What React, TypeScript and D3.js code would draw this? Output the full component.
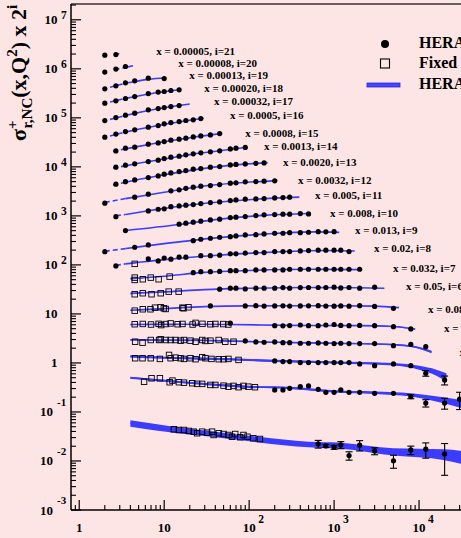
import React, { useEffect } from 'react';
import * as d3 from 'd3';

const W = 461;
const H = 538;

// x value of each bin, index i = 0..21 (plotted as sigma * 2^i)
const xBinLabels = ['0.65', '0.40', '0.25', '0.18', '0.13', '0.08', '0.05', '0.032', '0.02', '0.013', '0.008', '0.005', '0.0032', '0.0020', '0.0013', '0.0008', '0.0005', '0.00032', '0.00020', '0.00013', '0.00008', '0.00005'];

// HERA I NC e+p points per bin: [Q2, sigma_r, error?]
const heraPoints: number[][][] = [
  [[650, 0.0223, 0.004], [800, 0.0203, 0.0015], [1000, 0.0191, 0.0018], [1200, 0.0213, 0.0035], [1500, 0.0129, 0.0025], [2000, 0.021, 0.005], [3000, 0.016, 0.0026], [5000, 0.0101, 0.003], [8000, 0.0168, 0.0033], [12000, 0.0174, 0.006], [20000, 0.0139, 0.0088]],
  [[200, 0.141], [250, 0.141], [300, 0.152], [400, 0.164], [500, 0.17], [650, 0.145], [800, 0.126], [1000, 0.126], [1200, 0.141], [1500, 0.126], [2000, 0.126], [3000, 0.12], [5000, 0.12], [8000, 0.103, 0.01], [12000, 0.076, 0.013], [20000, 0.076, 0.019], [30000, 0.091, 0.035]],
  [[200, 0.275], [250, 0.266], [300, 0.266], [400, 0.254], [500, 0.254], [650, 0.254], [800, 0.254], [1000, 0.254], [1200, 0.254], [1500, 0.254], [2000, 0.239], [3000, 0.22], [5000, 0.239], [8000, 0.22], [12000, 0.154, 0.02], [20000, 0.112, 0.023]],
  [[90, 0.351], [120, 0.335], [150, 0.33], [200, 0.335], [250, 0.324], [300, 0.324], [400, 0.315], [500, 0.315], [650, 0.32], [800, 0.315], [1000, 0.31], [1200, 0.315], [1500, 0.31], [2000, 0.31], [3000, 0.31], [5000, 0.281], [8000, 0.3], [12000, 0.268]],
  [[60, 0.404], [200, 0.36], [250, 0.357], [300, 0.362], [400, 0.371], [500, 0.36], [650, 0.36], [800, 0.371], [1000, 0.38], [1200, 0.364], [1500, 0.36], [2000, 0.364], [3000, 0.36], [5000, 0.344], [8000, 0.309]],
  [[35, 0.454], [90, 0.455], [120, 0.46], [150, 0.452], [200, 0.455], [250, 0.458], [300, 0.452], [400, 0.455], [500, 0.458], [650, 0.46], [800, 0.452], [1000, 0.45], [1200, 0.455], [1500, 0.45], [2000, 0.46], [3000, 0.445], [5000, 0.407]],
  [[45, 0.499], [60, 0.523], [70, 0.523], [90, 0.506], [120, 0.523], [150, 0.523], [200, 0.523], [250, 0.538], [300, 0.523], [400, 0.538], [500, 0.54], [650, 0.54], [800, 0.54], [1000, 0.55], [1200, 0.53], [1500, 0.54], [2000, 0.523], [3000, 0.548]],
  [[22, 0.543], [27, 0.569], [35, 0.569], [45, 0.574], [60, 0.596], [70, 0.596], [90, 0.596], [120, 0.616], [150, 0.616], [200, 0.616], [250, 0.616], [300, 0.637], [400, 0.637], [500, 0.637], [650, 0.637], [800, 0.637], [1000, 0.637], [1200, 0.637], [1500, 0.637], [2000, 0.637]],
  [[2.7, 0.373], [6.5, 0.518], [8.5, 0.471], [10, 0.54], [12, 0.51], [15, 0.561], [18, 0.561], [27, 0.602], [35, 0.603], [45, 0.616], [60, 0.655], [70, 0.655], [90, 0.677], [120, 0.696], [150, 0.696], [200, 0.73], [250, 0.73], [300, 0.73], [400, 0.754], [500, 0.765], [650, 0.78], [800, 0.78], [1000, 0.78], [1200, 0.78], [1500, 0.73]],
  [[2, 0.364], [4.5, 0.447], [6.5, 0.499], [22, 0.61], [27, 0.652], [35, 0.683], [45, 0.716], [60, 0.737], [70, 0.761], [90, 0.798], [120, 0.809], [150, 0.837], [200, 0.864], [250, 0.864], [300, 0.889], [400, 0.889], [500, 0.906], [650, 0.932], [800, 0.925], [1000, 0.932]],
  [[3.5, 0.489], [15, 0.661], [18, 0.693], [22, 0.726], [27, 0.761], [35, 0.809], [45, 0.837], [60, 0.902], [70, 0.919], [90, 0.945], [120, 0.991], [150, 1.024], [200, 1.038], [250, 1.058], [300, 1.058], [400, 1.088], [500, 1.068]],
  [[2.7, 0.471], [6.5, 0.616], [8.5, 0.667], [10, 0.68], [12, 0.754], [15, 0.78], [18, 0.806], [22, 0.829], [27, 0.869], [35, 0.91], [45, 0.941], [60, 1.0], [70, 1.033], [90, 1.068], [120, 1.083], [150, 1.099], [200, 1.135], [250, 1.151], [300, 1.173]],
  [[2, 0.443], [4.5, 0.588], [6.5, 0.677], [12, 0.791], [15, 0.829], [18, 0.889], [22, 0.941], [27, 0.986], [35, 1.014], [45, 1.063], [60, 1.135], [70, 1.151], [90, 1.207], [120, 1.224], [150, 1.247], [200, 1.265]],
  [[2.7, 0.54], [3.5, 0.61], [4.5, 0.661], [6.5, 0.737], [8.5, 0.798], [10, 0.864], [12, 0.919], [15, 0.977], [18, 1.024], [22, 1.093], [27, 1.125], [35, 1.201], [45, 1.236], [60, 1.339], [70, 1.37], [90, 1.4], [120, 1.44], [150, 1.47]],
  [[2.7, 0.602], [3.5, 0.661], [4.5, 0.703], [6.5, 0.783], [8.5, 0.837], [10, 0.902], [12, 0.963], [15, 1.009], [18, 1.073], [22, 1.125], [27, 1.179], [35, 1.236], [45, 1.295], [60, 1.42], [70, 1.47], [90, 1.52]],
  [[2.7, 0.646], [3.5, 0.733], [4.5, 0.768], [6.5, 0.885], [8.5, 0.941], [10, 1.0], [12, 1.068], [15, 1.119], [18, 1.173], [22, 1.247], [27, 1.307], [35, 1.37], [45, 1.456]],
  [[2, 0.616], [2.7, 0.71], [3.5, 0.802], [4.5, 0.869], [6.5, 0.986], [8.5, 1.063], [10, 1.151], [12, 1.224], [15, 1.283], [18, 1.345], [22, 1.389], [27, 1.477]],
  [[2, 0.67], [2.7, 0.772], [3.5, 0.864], [4.5, 0.95], [6.5, 1.109], [8.5, 1.179], [10, 1.236], [12, 1.295], [15, 1.357]],
  [[2, 0.761], [2.7, 0.848], [3.5, 0.945], [4.5, 1.038], [6.5, 1.195], [8.5, 1.277], [10, 1.313], [12, 1.377], [15, 1.423]],
  [[2, 0.744], [2.7, 0.856], [3.5, 0.986], [4.5, 1.083], [6.5, 1.23], [10, 1.207]],
  [[2, 0.817], [2.7, 0.94], [3.5, 1.063]],
  [[2, 0.905], [2.7, 0.93]],
];

// Fixed target points per bin: [Q2, sigma_r]
const fixedTargetPoints: number[][][] = [
  [[13, 0.0443], [14.9, 0.0429], [17.1, 0.0429], [19.5, 0.041], [22.3, 0.0396], [24.4, 0.0368], [28, 0.0396], [32, 0.0377], [36.6, 0.0396], [38.2, 0.0339], [43.8, 0.0368], [50, 0.0355], [57, 0.0339], [62.8, 0.0312], [68.6, 0.0355], [78.5, 0.0305], [85.8, 0.0339], [95.5, 0.0312], [112, 0.0291], [134, 0.0281]],
  [[5.8, 0.207], [7.1, 0.243], [8.9, 0.243], [11.6, 0.202], [12.5, 0.218], [14.9, 0.202], [17.1, 0.198], [21.4, 0.193], [24.4, 0.187], [28, 0.187], [35, 0.178], [40, 0.178], [50, 0.172], [57, 0.164], [65.5, 0.17], [75, 0.16], [85.8, 0.17], [98, 0.164], [117, 0.16]],
  [[4.55, 0.312], [5.56, 0.312], [6.95, 0.312], [8.9, 0.302], [11.4, 0.364], [11.9, 0.312], [13.6, 0.321], [15.6, 0.312], [17.1, 0.302], [20.4, 0.312], [23.4, 0.298], [28, 0.327], [30.6, 0.312], [36, 0.302], [43.8, 0.298], [50, 0.298], [57, 0.302], [75, 0.288]],
  [[4.55, 0.339], [5.56, 0.324], [6.95, 0.367], [8.7, 0.367], [9.1, 0.38], [10.4, 0.367], [11.9, 0.367], [13.6, 0.367], [15.6, 0.356], [17.1, 0.367], [20.4, 0.356], [23.4, 0.339], [28, 0.367], [30.6, 0.351], [35, 0.356], [43.8, 0.367], [52.4, 0.339], [65.5, 0.339]],
  [[4.5, 0.385], [5.6, 0.39], [7.0, 0.38], [8.6, 0.392], [9.2, 0.37], [10.4, 0.388], [11.9, 0.4], [14.4, 0.385], [16.4, 0.39], [21.6, 0.38], [23.4, 0.41], [28.2, 0.392], [35, 0.385], [40, 0.39], [49.6, 0.388], [56.8, 0.38]],
  [[4.5, 0.364], [5.6, 0.389], [6.9, 0.389], [7.8, 0.419], [9.1, 0.427], [9.9, 0.407], [10.4, 0.394], [16.4, 0.419], [16.9, 0.407], [19.3, 0.427]],
  [[4.5, 0.394], [5.6, 0.413], [7.1, 0.394], [9.1, 0.413], [11.3, 0.445], [14.8, 0.445]],
  [[4.5, 0.385], [4.5, 0.43], [5.6, 0.398], [6.95, 0.43], [8.6, 0.398], [11.6, 0.45]],
  [[4.5, 0.41]],
  [], [], [], [], [], [], [], [], [], [], [], [], [],
];

// HERAPDF1.0 curves per bin: [Q2, sigma_r, relative half-width of the band]
const pdfCurves: number[][][] = [
  [[4, 0.059, 0.15], [13, 0.044, 0.14], [30, 0.037, 0.13], [130, 0.0275, 0.13], [500, 0.0218, 0.13], [1200, 0.0207, 0.14], [5000, 0.0155, 0.17], [20000, 0.0138, 0.25], [30000, 0.0125, 0.29], [50000, 0.011, 0.33]],
  [[4, 0.25, 0.05], [15, 0.205, 0.05], [50, 0.175, 0.05], [100, 0.163, 0.05], [300, 0.155, 0.05], [1000, 0.132, 0.05], [3000, 0.124, 0.06], [8000, 0.112, 0.08], [15000, 0.095, 0.12], [30000, 0.075, 0.18], [45000, 0.062, 0.22]],
  [[4, 0.34, 0.05], [10, 0.32, 0.05], [50, 0.3, 0.05], [200, 0.275, 0.05], [1000, 0.255, 0.05], [5000, 0.235, 0.06], [10000, 0.2, 0.09], [16000, 0.16, 0.14], [21000, 0.13, 0.19]],
  [[4, 0.37, 0.02], [30, 0.36, 0.02], [200, 0.33, 0.02], [1000, 0.315, 0.02], [5000, 0.295, 0.03], [9000, 0.265, 0.04], [14000, 0.21, 0.06]],
  [[4, 0.38, 0.01], [20, 0.385, 0.01], [60, 0.38, 0.01], [300, 0.365, 0.01], [2000, 0.36, 0.01], [5000, 0.345, 0.02], [9000, 0.305, 0.03]],
  [[4, 0.37, 0], [10, 0.4, 0], [30, 0.44, 0], [100, 0.455, 0], [1000, 0.46, 0], [3000, 0.45, 0.01], [5800, 0.42, 0.015]],
  [[4, 0.41, 0], [10, 0.44, 0], [30, 0.49, 0], [100, 0.52, 0], [500, 0.54, 0], [2000, 0.535, 0], [3900, 0.52, 0.01]],
  [[4, 0.41, 0], [10, 0.46, 0], [30, 0.55, 0], [100, 0.6, 0], [500, 0.635, 0], [2100, 0.625, 0]],
  [[2.7, 0.38, 0], [3.5, 0.41, 0], [4.5, 0.43, 0], [10, 0.5, 0], [35, 0.6, 0], [150, 0.7, 0], [800, 0.77, 0], [1750, 0.75, 0]],
  [[2, 0.37, 0], [3.5, 0.42, 0], [4.5, 0.445, 0], [10, 0.53, 0], [35, 0.68, 0], [150, 0.83, 0], [600, 0.92, 0], [1150, 0.9, 0]],
  [[3.5, 0.49, 0], [15, 0.65, 0], [45, 0.84, 0], [150, 1.0, 0], [520, 1.09, 0]],
  [[2.7, 0.49, 0], [3.5, 0.52, 0], [6.5, 0.62, 0], [15, 0.77, 0], [45, 0.94, 0], [120, 1.07, 0], [390, 1.18, 0]],
  [[2, 0.46, 0], [3.5, 0.55, 0], [4.5, 0.59, 0], [10, 0.74, 0], [27, 0.97, 0], [70, 1.14, 0], [215, 1.28, 0]],
  [[2.5, 0.52, 0], [3.5, 0.59, 0], [4.5, 0.65, 0], [10, 0.84, 0], [27, 1.11, 0], [60, 1.31, 0], [165, 1.49, 0]],
  [[2.5, 0.58, 0], [3.5, 0.64, 0], [4.5, 0.7, 0], [10, 0.88, 0], [22, 1.11, 0], [45, 1.3, 0], [95, 1.53, 0]],
  [[2.5, 0.63, 0], [3.5, 0.71, 0], [4.5, 0.77, 0], [10, 0.99, 0], [22, 1.23, 0], [48, 1.47, 0]],
  [[2.3, 0.65, 0], [3.5, 0.78, 0], [4.5, 0.86, 0], [10, 1.12, 0], [20, 1.36, 0], [29, 1.5, 0]],
  [[2.3, 0.71, 0], [3.5, 0.85, 0], [4.5, 0.94, 0], [8.5, 1.17, 0], [15, 1.36, 0], [20, 1.46, 0]],
  [[2.3, 0.8, 0], [3.5, 0.95, 0], [4.5, 1.03, 0], [8.5, 1.25, 0], [15.5, 1.44, 0]],
  [[2.3, 0.8, 0], [3.5, 0.97, 0], [4.5, 1.05, 0], [6.5, 1.16, 0], [10.5, 1.25, 0]],
  [[2.6, 0.92, 0], [3.5, 1.02, 0], [4.3, 1.1, 0]],
  [[2.6, 0.92, 0], [3.1, 1.0, 0]],
];

// label anchor of each bin in data coordinates: [Q2, plotted value]
const labelAnchors: number[][] = [
  [89000, 0.0066], [52000, 0.11], [40000, 0.49], [30000, 1.39], [19680, 4.29], [12760, 10.5], [7031, 30.9], [4946, 72], [2955, 184], [1766, 430], [897, 954], [597, 2220], [377, 4500], [251, 1.05e4], [150, 2.22e4], [89.7, 4.09e4], [59.7, 9.55e4], [38.7, 1.84e5], [29.6, 3.4e5], [19.7, 6.25e5], [14.6, 1.1e6], [8.05, 1.93e6],
];

const yMajorExp = [-3, -2, -1, 0, 1, 2, 3, 4, 5, 6, 7];
const xMajorExp = [0, 1, 2, 3, 4];
const legendLabels = ['HERA I NC e\u207Ap', 'Fixed Target', 'HERAPDF1.0'];

const FONT = "'Liberation Serif','Times New Roman',serif";
const BLUE = '#3c3cff';

export default function App() {
  useEffect(() => {
    document.body.style.margin = '0';
  }, []);

  const x = d3.scaleLog().domain([0.8, 1e5]).range([71, 504]);
  const y = d3.scaleLog().domain([1e-3, 2.1e7]).range([510, 4]);

  const line = d3.line<number[]>().x(d => x(d[0])).y(d => y(d[1])).curve(d3.curveMonotoneX);
  const area = d3.area<number[]>().x(d => x(d[0])).y0(d => y(d[1] * (1 - d[2]))).y1(d => y(d[1] * (1 + d[2]))).curve(d3.curveMonotoneX);

  const yMinor: number[] = [];
  for (let n = -3; n <= 7; n++) for (let k = 2; k <= 9; k++) { const v = k * Math.pow(10, n); if (v < 2.1e7) yMinor.push(v); }
  const xMinor: number[] = [0.9];
  for (let n = 0; n <= 4; n++) for (let k = 2; k <= 9; k++) { const v = k * Math.pow(10, n); if (x(v) < W) xMinor.push(v); }

  const rows = d3.range(22);

  return (
    <svg width={W} height={H} style={{ position: 'absolute', left: 0, top: 0, display: 'block' }} fontFamily={FONT}>
      <defs>
        <clipPath id="plot"><rect x={71} y={4} width={433} height={506} /></clipPath>
      </defs>
      <rect x={0} y={0} width={W} height={H} fill="#fde5e5" />

      <g clipPath="url(#plot)">
        {rows.map(i => {
          const s = Math.pow(2, i);
          const k = pdfCurves[i].map(d => [d[0], d[1] * s, d[2]]);
          const dashed = k.filter(d => d[0] <= 3.5);
          const solid = k.filter(d => d[0] >= 3.5);
          const hasBand = k.some(d => d[2] > 0);
          return (
            <g key={'c' + i}>
              {hasBand && solid.length > 1 && <path d={area(solid) || ''} fill={BLUE} stroke="none" />}
              {dashed.length > 1 && <path d={line(dashed) || ''} fill="none" stroke={BLUE} strokeWidth={1.6} strokeDasharray="5,3" />}
              {solid.length > 1 && <path d={line(solid) || ''} fill="none" stroke={BLUE} strokeWidth={1.6} />}
            </g>
          );
        })}
        {rows.map(i => {
          const s = Math.pow(2, i);
          return (
            <g key={'f' + i}>
              {fixedTargetPoints[i].map((d, j) => (
                <rect key={j} x={x(d[0]) - 2.75} y={y(d[1] * s) - 2.75} width={5.5} height={5.5} fill="none" stroke="#000" strokeWidth={0.9} />
              ))}
            </g>
          );
        })}
        {rows.map(i => {
          const s = Math.pow(2, i);
          return (
            <g key={'h' + i}>
              {heraPoints[i].map((d, j) => {
                const cx = x(d[0]);
                const cy = y(d[1] * s);
                return (
                  <g key={j}>
                    {d.length > 2 && (
                      <g stroke="#000" strokeWidth={1.1}>
                        <line x1={cx} x2={cx} y1={y((d[1] + d[2]) * s)} y2={y((d[1] - d[2]) * s)} />
                        <line x1={cx - 3.5} x2={cx + 3.5} y1={y((d[1] + d[2]) * s)} y2={y((d[1] + d[2]) * s)} />
                        <line x1={cx - 3.5} x2={cx + 3.5} y1={y((d[1] - d[2]) * s)} y2={y((d[1] - d[2]) * s)} />
                      </g>
                    )}
                    <circle cx={cx} cy={cy} r={2.6} fill="#000" />
                  </g>
                );
              })}
            </g>
          );
        })}
      </g>

      {/* bin labels */}
      {rows.map(i => (
        <text key={'l' + i} x={x(labelAnchors[i][0])} y={y(labelAnchors[i][1])} fontSize={11} fontWeight="bold" fill="#000">
          {`x = ${xBinLabels[i]}, i=${i}`}
        </text>
      ))}

      {/* frame and axes */}
      <line x1={71} x2={W} y1={4} y2={4} stroke="#333" strokeWidth={1.3} />
      <line x1={71} x2={71} y1={4} y2={510} stroke="#000" strokeWidth={1.5} />
      <line x1={71} x2={W} y1={510} y2={510} stroke="#000" strokeWidth={1.5} />

      {yMajorExp.map(n => <line key={'ym' + n} x1={71} x2={81} y1={y(Math.pow(10, n))} y2={y(Math.pow(10, n))} stroke="#000" strokeWidth={1.2} />)}
      {yMinor.map((v, j) => <line key={'yn' + j} x1={71} x2={76} y1={y(v)} y2={y(v)} stroke="#000" strokeWidth={1.1} />)}
      {xMajorExp.map(n => <line key={'xm' + n} x1={x(Math.pow(10, n))} x2={x(Math.pow(10, n))} y1={510} y2={500} stroke="#000" strokeWidth={1.2} />)}
      {xMinor.map((v, j) => <line key={'xn' + j} x1={x(v)} x2={x(v)} y1={510} y2={505} stroke="#000" strokeWidth={1.1} />)}

      {/* y tick labels */}
      {yMajorExp.map(n => {
        const ty = y(Math.pow(10, n));
        if (n === 0) return <text key={'yl' + n} x={57.5} y={ty + 4.5} textAnchor="end" fontSize={13} fontWeight="bold">1</text>;
        if (n === 1) return <text key={'yl' + n} x={57.5} y={ty + 4.5} textAnchor="end" fontSize={13} fontWeight="bold">10</text>;
        if (n > 1) return (
          <g key={'yl' + n} fontWeight="bold">
            <text x={57.5} y={ty + 4.5} textAnchor="end" fontSize={13}>10</text>
            <text x={61} y={ty - 1} fontSize={11.5}>{n}</text>
          </g>
        );
        return (
          <g key={'yl' + n} fontWeight="bold">
            <text x={53} y={ty + 4.5} textAnchor="end" fontSize={13}>10</text>
            <text x={57} y={ty - 6} fontSize={11}>{`-${-n}`}</text>
          </g>
        );
      })}

      {/* x tick labels */}
      {xMajorExp.map(n => {
        const tx = x(Math.pow(10, n));
        if (n === 0) return <text key={'xl' + n} x={tx} y={532} textAnchor="middle" fontSize={13} fontWeight="bold">1</text>;
        if (n === 1) return <text key={'xl' + n} x={tx} y={532} textAnchor="middle" fontSize={13} fontWeight="bold">10</text>;
        return (
          <g key={'xl' + n} fontWeight="bold">
            <text x={tx} y={532} textAnchor="middle" fontSize={13}>10</text>
            <text x={tx + 9} y={523} fontSize={11.5}>{n}</text>
          </g>
        );
      })}

      {/* y title */}
      <text transform="translate(26,141) rotate(-90)" fontSize={22} fontWeight="bold">
        σ
        <tspan dy={-9} fontSize={15}>+</tspan>
        <tspan dx={-8} dy={15} fontSize={15}>r,NC</tspan>
        <tspan dy={-6}>(x,Q</tspan>
        <tspan dy={-9} fontSize={15}>2</tspan>
        <tspan dy={9}>) x 2</tspan>
        <tspan dy={-9} fontSize={15}>i</tspan>
      </text>

      {/* legend */}
      <circle cx={385} cy={44} r={4} fill="#000" />
      <text x={419} y={48} fontSize={16} fontWeight="bold">{legendLabels[0]}</text>
      <rect x={380.5} y={59} width={9} height={9} fill="none" stroke="#000" strokeWidth={1.1} />
      <text x={419} y={68} fontSize={16} fontWeight="bold">{legendLabels[1]}</text>
      <rect x={367} y={83} width={33} height={4} fill="#4646ff" stroke="#2a2ad0" strokeWidth={0.8} />
      <text x={419} y={88.5} fontSize={16} fontWeight="bold">{legendLabels[2]}</text>
    </svg>
  );
}
